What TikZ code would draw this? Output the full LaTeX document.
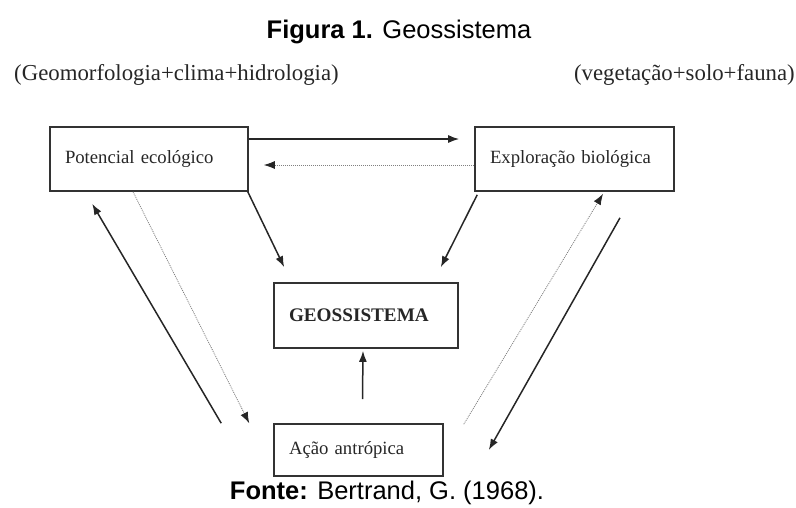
\documentclass[tikz,border=0pt]{standalone}
\usepackage{fontspec}
\setmainfont{Liberation Serif}
\newfontfamily\capfont{Liberation Sans}
\usetikzlibrary{arrows.meta,positioning,calc}

\begin{document}
\begin{tikzpicture}[
  x=1pt,y=1pt,
  box/.style={draw=black!80,line width=1.6pt,align=left,inner xsep=15pt,inner ysep=0pt,text=black!85,font=\fontsize{18.7}{21}\selectfont},
  head/.style={inner sep=0pt,font=\fontsize{22.8}{25}\selectfont,text=black!85},
  captext/.style={inner sep=0pt,font=\capfont\fontsize{25.5}{28}\selectfont},
  arr/.style={-{Latex[length=11pt,width=8pt]},line width=1.5pt,draw=black!85},
  dots/.style={-{Latex[length=11pt,width=8pt,color=black!85]},line width=0.8pt,draw=black!50,dash pattern=on 1pt off 1pt}
]
\useasboundingbox (0,0) rectangle (796,-507);

% title and source
\node[captext] (title) at (399,-32) {\textbf{Figura 1.} Geossistema};
\node[captext] (fonte) at (387,-493) {\textbf{Fonte:} Bertrand, G. (1968).};

% components above the boxes
\node[head,anchor=west] (abio) at (14,-75) {(Geomorfologia+clima+hidrologia)};
\node[head,anchor=east] (bio) at (795,-75) {(vegetação+solo+fauna)};

% boxes
\node[box,text width=168pt,minimum height=64pt] (pot) at (149,-159) {Potencial ecológico};
\node[box,text width=169pt,minimum height=64pt] (exp) at (574.5,-159) {Exploração biológica};
\node[box,text width=154pt,minimum height=65pt,font=\bfseries\fontsize{19.2}{21}\selectfont] (geo) at (366,-315.5) {GEOSSISTEMA};
\node[box,text width=139pt,minimum height=52pt] (acao) at (358.5,-450) {Ação antrópica};

% exchanges between the two upper boxes
\draw[arr,shorten >=15pt] ([yshift=20pt]pot.east) -- ([yshift=20pt]exp.west);
\draw[dots,shorten >=15pt] ([yshift=-6pt]exp.west) -- ([yshift=-6pt]pot.east);

% into the geosystem
\draw[arr] ([xshift=-1pt]pot.south east) -- ($(geo.north west)+(11,15)$);
\draw[arr] ([xshift=3pt,yshift=-3pt]exp.south west) -- ($(geo.north east)+(-18,15)$);
\draw[arr] ([xshift=4pt,yshift=24pt]acao.north) -- ([xshift=-3pt,yshift=-2pt]geo.south);

% left side loop
\draw[arr] ([xshift=-52pt]acao.north west) -- ($(pot.south west)+(43,-12)$);
\draw[dots] ([xshift=-16pt]pot.south) -- ([xshift=-24pt]acao.north west);

% right side loop
\draw[dots] ([xshift=20pt,yshift=-1pt]acao.north east) -- ($(exp.south)+(28.5,-2)$);
\draw[arr] ($(exp.south)+(45.5,-26)$) -- ([xshift=45pt]acao.east);
\end{tikzpicture}
\end{document}
